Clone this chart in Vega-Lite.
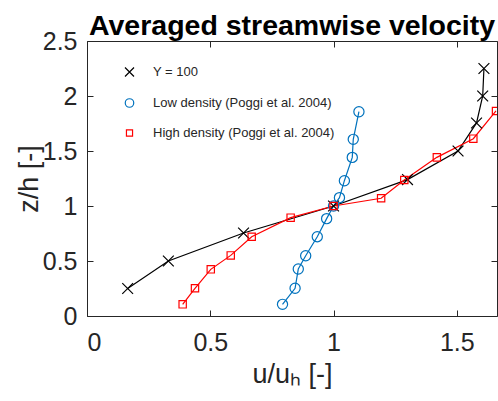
{
  "$schema": "https://vega.github.io/schema/vega-lite/v6.json",
  "width": 410,
  "height": 275,
  "autosize": {"type": "none"},
  "padding": {"left": 87, "top": 41, "right": 1, "bottom": 85},
  "background": "white",
  "title": {
    "text": "Averaged streamwise velocity",
    "font": "Liberation Sans",
    "fontSize": 28.5,
    "fontWeight": "bold",
    "color": "#000000",
    "anchor": "middle",
    "offset": -11
  },
  "config": {
    "view": {"stroke": "#262626", "strokeWidth": 1},
    "axis": {
      "grid": false,
      "domain": false,
      "labelFont": "Liberation Sans",
      "titleFont": "Liberation Sans",
      "labelFontSize": 25,
      "titleFontSize": 27,
      "labelColor": "#262626",
      "titleColor": "#262626",
      "titleFontWeight": "normal",
      "tickColor": "#262626",
      "tickSize": -6,
      "tickWidth": 1
    },
    "legend": {
      "labelFont": "Liberation Sans",
      "labelFontSize": 13,
      "labelColor": "#262626",
      "labelLimit": 400
    }
  },
  "data": {
    "values": [
      {"series": "Y = 100", "u": 0.165, "z": 0.25, "o": 1},
      {"series": "Y = 100", "u": 0.33, "z": 0.5, "o": 2},
      {"series": "Y = 100", "u": 0.635, "z": 0.755, "o": 3},
      {"series": "Y = 100", "u": 1.0, "z": 1.0, "o": 4},
      {"series": "Y = 100", "u": 1.3, "z": 1.24, "o": 5},
      {"series": "Y = 100", "u": 1.505, "z": 1.5, "o": 6},
      {"series": "Y = 100", "u": 1.58, "z": 1.755, "o": 7},
      {"series": "Y = 100", "u": 1.605, "z": 2.0, "o": 8},
      {"series": "Y = 100", "u": 1.61, "z": 2.25, "o": 9},
      {"series": "Low density (Poggi et al. 2004)", "u": 0.793, "z": 0.106, "o": 1},
      {"series": "Low density (Poggi et al. 2004)", "u": 0.844, "z": 0.252, "o": 2},
      {"series": "Low density (Poggi et al. 2004)", "u": 0.857, "z": 0.427, "o": 3},
      {"series": "Low density (Poggi et al. 2004)", "u": 0.887, "z": 0.548, "o": 4},
      {"series": "Low density (Poggi et al. 2004)", "u": 0.934, "z": 0.721, "o": 5},
      {"series": "Low density (Poggi et al. 2004)", "u": 0.972, "z": 0.885, "o": 6},
      {"series": "Low density (Poggi et al. 2004)", "u": 1.0, "z": 1.0, "o": 7},
      {"series": "Low density (Poggi et al. 2004)", "u": 1.024, "z": 1.076, "o": 8},
      {"series": "Low density (Poggi et al. 2004)", "u": 1.044, "z": 1.23, "o": 9},
      {"series": "Low density (Poggi et al. 2004)", "u": 1.076, "z": 1.442, "o": 10},
      {"series": "Low density (Poggi et al. 2004)", "u": 1.08, "z": 1.606, "o": 11},
      {"series": "Low density (Poggi et al. 2004)", "u": 1.103, "z": 1.857, "o": 12},
      {"series": "High density (Poggi et al. 2004)", "u": 0.388, "z": 0.106, "o": 1},
      {"series": "High density (Poggi et al. 2004)", "u": 0.438, "z": 0.252, "o": 2},
      {"series": "High density (Poggi et al. 2004)", "u": 0.502, "z": 0.424, "o": 3},
      {"series": "High density (Poggi et al. 2004)", "u": 0.583, "z": 0.551, "o": 4},
      {"series": "High density (Poggi et al. 2004)", "u": 0.668, "z": 0.721, "o": 5},
      {"series": "High density (Poggi et al. 2004)", "u": 0.826, "z": 0.894, "o": 6},
      {"series": "High density (Poggi et al. 2004)", "u": 1.0, "z": 1.0, "o": 7},
      {"series": "High density (Poggi et al. 2004)", "u": 1.193, "z": 1.07, "o": 8},
      {"series": "High density (Poggi et al. 2004)", "u": 1.287, "z": 1.236, "o": 9},
      {"series": "High density (Poggi et al. 2004)", "u": 1.419, "z": 1.442, "o": 10},
      {"series": "High density (Poggi et al. 2004)", "u": 1.567, "z": 1.612, "o": 11},
      {"series": "High density (Poggi et al. 2004)", "u": 1.659, "z": 1.864, "o": 12}
    ]
  },
  "layer": [
    {
      "mark": {"type": "line", "strokeWidth": 1.2, "clip": true},
      "encoding": {
        "x": {
          "field": "u", "type": "quantitative",
          "scale": {"domain": [0, 1.663], "nice": false, "zero": false},
          "axis": {"orient": "bottom", "values": [0, 0.5, 1, 1.5], "format": "~g", "labelPadding": 20, "title": "u/uₕ [-]", "titlePadding": 6}
        },
        "y": {
          "field": "z", "type": "quantitative",
          "scale": {"domain": [0, 2.5], "nice": false, "zero": false},
          "axis": {"orient": "left", "values": [0, 0.5, 1, 1.5, 2, 2.5], "format": "~g", "labelPadding": 16, "title": "z/h [-]", "titlePadding": -1}
        },
        "color": {
          "field": "series", "type": "nominal",
          "scale": {
            "domain": ["Y = 100", "Low density (Poggi et al. 2004)", "High density (Poggi et al. 2004)"],
            "range": ["#000000", "#0072BD", "#FF0000"]
          },
          "legend": {
            "title": null,
            "orient": "none",
            "legendX": 36,
            "legendY": 24.5,
            "padding": 0,
            "symbolSize": 100,
            "symbolStrokeWidth": 1.2,
            "symbolFillColor": "transparent",
            "labelFont": "Liberation Sans",
            "labelFontSize": 13,
            "labelColor": "#262626",
            "labelLimit": 400,
            "labelOffset": 17,
            "rowPadding": 16
          }
        },
        "detail": {"field": "series"},
        "order": {"field": "o", "type": "quantitative"}
      }
    },
    {
      "mark": {"type": "point", "filled": false, "size": 144, "strokeWidth": 1.2, "opacity": 1, "clip": true},
      "encoding": {
        "x": {
          "field": "u", "type": "quantitative",
          "axis": {"orient": "top", "values": [0, 0.5, 1, 1.5], "labels": false, "title": null}
        },
        "y": {
          "field": "z", "type": "quantitative",
          "axis": {"orient": "right", "values": [0, 0.5, 1, 1.5, 2, 2.5], "labels": false, "title": null}
        },
        "color": {"field": "series", "type": "nominal"},
        "shape": {
          "field": "series", "type": "nominal",
          "scale": {
            "domain": ["Y = 100", "Low density (Poggi et al. 2004)", "High density (Poggi et al. 2004)"],
            "range": ["M-0.9,-0.9L0.9,0.9M-0.9,0.9L0.9,-0.9", "M0.85,0A0.85,0.85,0,1,1,-0.85,0A0.85,0.85,0,1,1,0.85,0Z", "M-0.61,-0.61H0.61V0.61H-0.61Z"]
          },
          "legend": null
        }
      }
    }
  ],
  "resolve": {"axis": {"x": "independent", "y": "independent"}}
}
